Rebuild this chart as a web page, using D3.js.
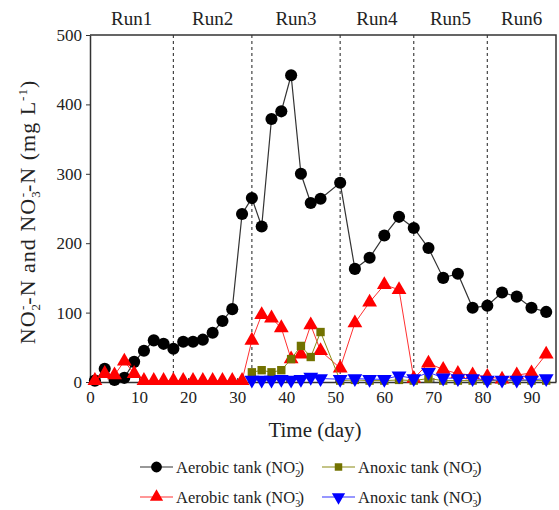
<!DOCTYPE html>
<html>
<head>
<meta charset="utf-8">
<script src="https://cdn.jsdelivr.net/npm/d3@7"></script>
<style>
  body { margin: 0; background: #fff; }
  svg text { font-family: "Liberation Serif", "Times New Roman", serif; fill: #222; }
  .axis path, .axis line { stroke: #333; }
</style>
</head>
<body>
<svg id="chart"></svg>
<script>
// days sampled (aerobic tank)
const daysAer = [1,3,5,7,9,11,13,15,17,19,21,23,25,27,29,31,33,35,37,39,41,43,45,47,
  51,54,57,60,63,66,69,72,75,78,81,84,87,90,93]
const aerNO2 = [2,19,3,6,29,45,60,55,48,58,58,61,71,88,105,242,265,224,379,390,442,300,258,264,
  287,163,179,211,238,222,193,150,156,107,110,129,123,107,101]
const aerNO3 = [2,12,10,30,12,2,2,2,2,2,2,2,2,2,2,2,60,97,92,78,33,40,82,45,
  20,85,115,140,133,5,27,18,12,10,8,4,10,13,40]

// days sampled (anoxic tank)
const daysAnx = [33,35,37,39,41,43,45,47,51,54,57,60,63,66,69,72,75,78,81,84,87,90,93]
const anxNO2 = [14,17,14,17,33,52,36,72,2,3,2,2,3,2,5,2,2,2,2,2,2,2,2]
const anxNO3 = [3,3,3,4,3,4,7,5,4,5,4,4,9,5,14,6,5,5,3,3,3,3,5]

const runBounds = [17, 33, 51, 66, 81]
const runLabels = ["Run1", "Run2", "Run3", "Run4", "Run5", "Run6"]
const xTicks = [0,10,20,30,40,50,60,70,80,90]
const yTicks = [0,100,200,300,400,500]

const width = 559, height = 510
const margin = { top: 35, right: 3, bottom: 128, left: 90 }
const w = width - margin.left - margin.right
const h = height - margin.top - margin.bottom
const serif = '"Liberation Serif", "Times New Roman", serif'

const svg = d3.select('#chart')
    .attr('width', width)
    .attr('height', height)

const chart = svg.append('g')
    .attr('transform', `translate(${margin.left}, ${margin.top})`)

const x = d3.scaleLinear().domain([0, 95]).range([0, w])
const y = d3.scaleLinear().domain([0, 500]).range([h, 0])

// run separators
chart.selectAll('.run')
  .data(runBounds)
  .enter().append('line')
    .attr('x1', d => x(d)).attr('x2', d => x(d))
    .attr('y1', 0).attr('y2', h)
    .attr('stroke', '#444')
    .attr('stroke-width', 1.2)
    .attr('stroke-dasharray', '3,3')

const edges = [0, ...runBounds, 95]
svg.selectAll('.runlabel')
  .data(runLabels)
  .enter().append('text')
    .attr('x', (d, i) => margin.left + x((edges[i] + edges[i + 1]) / 2))
    .attr('y', 25)
    .attr('text-anchor', 'middle')
    .attr('font-family', serif)
    .attr('font-size', 19)
    .text(d => d)

// axes
chart.append('g')
  .attr('class', 'x axis')
  .attr('transform', `translate(0, ${h})`)
  .call(d3.axisBottom(x).tickValues(xTicks).tickSizeInner(-4).tickSizeOuter(0).tickPadding(9))

chart.append('g')
  .attr('class', 'y axis')
  .call(d3.axisLeft(y).tickValues(yTicks).tickSizeInner(4).tickSizeOuter(0).tickPadding(4))

chart.selectAll('.axis')
  .attr('font-family', serif)
  .attr('font-size', 17)
chart.selectAll('.axis path').attr('stroke-width', 1.5)

// frame top + right
chart.append('path')
  .attr('d', `M0,0H${w}V${h}`)
  .attr('fill', 'none')
  .attr('stroke', '#333')
  .attr('stroke-width', 1.5)

// series
const series = [
  { days: daysAer, vals: aerNO2, line: '#333', fill: '#000', sym: d3.symbolCircle, size: 115, rot: 0, lw: 1.2 },
  { days: daysAer, vals: aerNO3, line: '#ff3030', fill: '#ff0000', sym: d3.symbolTriangle, size: 95, rot: 0, lw: 1 },
  { days: daysAnx, vals: anxNO2, line: '#8a8a10', fill: '#727200', sym: d3.symbolSquare, size: 70, rot: 0, lw: 1 },
  { days: daysAnx, vals: anxNO3, line: '#3030ff', fill: '#0000ff', sym: d3.symbolTriangle, size: 95, rot: 180, lw: 1 }
]

const line = d3.line().x(d => x(d[0])).y(d => y(d[1]))

series.forEach(s => {
  const pts = s.days.map((d, i) => [d, s.vals[i]])
  chart.append('path')
    .datum(pts)
    .attr('d', line)
    .attr('fill', 'none')
    .attr('stroke', s.line)
    .attr('stroke-width', s.lw)

  chart.selectAll(null)
    .data(pts)
    .enter().append('path')
      .attr('d', d3.symbol().type(s.sym).size(s.size))
      .attr('transform', d => `translate(${x(d[0])}, ${y(d[1])}) rotate(${s.rot})`)
      .attr('fill', s.fill)
})

// axis titles
svg.append('text')
  .attr('x', margin.left + w / 2 - 8)
  .attr('y', 437)
  .attr('text-anchor', 'middle')
  .attr('font-family', serif)
  .attr('font-size', 21)
  .text('Time (day)')

// y title, sub- and superscripts stacked like the original
const yl = svg.append('text')
  .attr('transform', 'translate(35, 212) rotate(-90)')
  .attr('text-anchor', 'middle')
  .attr('font-family', serif)
  .attr('font-size', 22)
  .attr('letter-spacing', 1)
yl.append('tspan').text('NO')
yl.append('tspan').attr('dy', 5).attr('font-size', 13).text('2')
yl.append('tspan').attr('dy', -13).attr('dx', -7).attr('font-size', 13).text('-')
yl.append('tspan').attr('dy', 8).text('-N and NO')
yl.append('tspan').attr('dy', 5).attr('font-size', 13).text('3')
yl.append('tspan').attr('dy', -13).attr('dx', -7).attr('font-size', 13).text('-')
yl.append('tspan').attr('dy', 8).text('-N (mg L')
yl.append('tspan').attr('dy', -8).attr('font-size', 13).text('-1')
yl.append('tspan').attr('dy', 8).text(')')

// legend
const legend = [
  { s: series[0], label: 'Aerobic tank (NO', sub: '2', col: 0, row: 0 },
  { s: series[2], label: 'Anoxic tank (NO', sub: '2', col: 1, row: 0 },
  { s: series[1], label: 'Aerobic tank (NO', sub: '3', col: 0, row: 1 },
  { s: series[3], label: 'Anoxic tank (NO', sub: '3', col: 1, row: 1 }
]

const lg = svg.selectAll('.leg')
  .data(legend)
  .enter().append('g')
    .attr('transform', d => `translate(${d.col ? 322 : 140}, ${d.row ? 497 : 467})`)

lg.append('line')
  .attr('x1', 0).attr('x2', 33)
  .attr('stroke', d => d.s.line)
  .attr('stroke-width', 1.2)

lg.append('path')
  .attr('d', d => d3.symbol().type(d.s.sym).size(d.s.size * 0.8)())
  .attr('transform', d => `translate(16.5, 0) rotate(${d.s.rot})`)
  .attr('fill', d => d.s.fill)

const lt = lg.append('text')
  .attr('x', 36)
  .attr('y', 6)
  .attr('font-family', serif)
  .attr('font-size', 16.5)
lt.append('tspan').text(d => d.label)
lt.append('tspan').attr('dy', 4).attr('font-size', 10).text(d => d.sub)
lt.append('tspan').attr('dy', -11).attr('dx', -5).attr('font-size', 10).text('-')
lt.append('tspan').attr('dy', 7).text(')')
</script>
</body>
</html>
